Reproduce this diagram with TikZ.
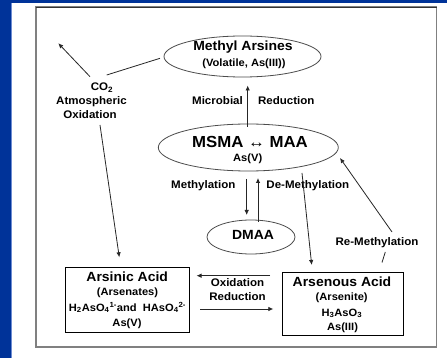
\documentclass[tikz,border=0pt]{standalone}
\usepackage{fontspec}
\setmainfont{Liberation Sans}[FakeStretch=1.05]
\usetikzlibrary{shapes.geometric,arrows.meta}
\definecolor{slideblue}{RGB}{0,51,153}
\definecolor{edgeblue}{RGB}{110,140,210}
\begin{document}
\begin{tikzpicture}[x=1pt,y=-1pt,
  txt/.style={inner sep=0pt, anchor=base, text=black},
  ttl/.style={txt, font=\fontsize{13.3}{15}\selectfont\bfseries},
  subt/.style={txt, font=\fontsize{10.6}{12}\selectfont\bfseries},
  lab/.style={txt, font=\fontsize{11}{13}\selectfont\bfseries},
  msmafont/.style={txt, font=\fontsize{16}{18}\selectfont\bfseries},
  ell/.style={ellipse, draw=black!70, line width=0.8pt, inner sep=0pt},
  boxn/.style={rectangle, draw=black, line width=0.8pt, inner sep=0pt},
  arr/.style={draw=black!85, line width=0.8pt, -{Latex[length=5pt,width=4.5pt]}},
  ln/.style={draw=black!85, line width=0.8pt}]
\useasboundingbox (0,0) rectangle (447,358);
% background
\fill[white] (0,0) rectangle (447,358);
\fill[slideblue] (0,0) rectangle (11,358);
\fill[slideblue] (0,0) rectangle (447,3);
\draw[edgeblue, line width=1pt] (11.5,3) -- (11.5,358);
% frame
\draw[black!50, line width=1.5pt] (36,7) rectangle (436.5,347);
\draw[black!80, line width=0.8pt] (36,7) -- (436.5,7);
% shapes
\node[ell, minimum width=157pt, minimum height=41pt] (methyl) at (242.5,56.5) {};
\node[ell, minimum width=180pt, minimum height=47pt] (msma) at (248.3,147.5) {};
\node[ell, minimum width=88pt, minimum height=34pt] (dmaa) at (251,237) {};
\node[boxn, minimum width=124pt, minimum height=65pt] (arsinic) at (127,299.5) {};
\node[boxn, minimum width=121pt, minimum height=63pt] (arsenous) at (342.5,303.5) {};
% texts
\node[ttl] (tmethyl) at (243,51) {Methyl Arsines};
\node[subt] (tvol) at (244,66.5) {(Volatile, As(III))};
\node[lab] (tmicro) at (217.5,104.3) {Microbial};
\node[lab] (tred1) at (286.3,104.3) {Reduction};
\node[lab] (tco2) at (102,90.5) {CO\textsubscript{2}};
\node[lab] (tatm) at (91.5,104.3) {Atmospheric};
\node[lab] (toxi) at (90,119) {Oxidation};
\node[msmafont] (tmsma) at (250,147.3) {MSMA ↔ MAA};
\node[subt] (tasv) at (247.7,161.5) {As(V)};
\node[lab] (tmeth) at (203.3,188.3) {Methylation};
\node[lab] (tdemeth) at (307.8,188.3) {De-Methylation};
\node[ttl] (tdmaa) at (253,240) {DMAA};
\node[lab] (tremeth) at (377,245) {Re-Methylation};
\node[ttl] (tarsinic) at (127.2,281.7) {Arsinic Acid};
\node[subt] (tarsenates) at (127.5,295.5) {(Arsenates)};
\node[subt] (tformula) at (127.5,311) {H\textsubscript{2}AsO\textsubscript{4}\textsuperscript{1-}and\ \ HAsO\textsubscript{4}\textsuperscript{2-}};
\node[subt] (tasv2) at (127,326.5) {As(V)};
\node[ttl] (tarsenous) at (342,286) {Arsenous Acid};
\node[subt] (tarsenite) at (341.7,300.7) {(Arsenite)};
\node[subt] (th3) at (341.8,316) {H\textsubscript{3}AsO\textsubscript{3}};
\node[subt] (tas3) at (342.5,330.7) {As(III)};
\node[lab] (toxid2) at (237.5,286.7) {Oxidation};
\node[lab] (tred2) at (237.5,300.7) {Reduction};
% connector end points
\coordinate (c1s) at (90,76.7);    \coordinate (c1e) at (58.3,43.3);
\coordinate (c2s) at (106.7,75);   \coordinate (c2e) at (160,58.3);
\coordinate (c3s) at (100,125);    \coordinate (c3e) at (119.3,257.3);
\coordinate (c4s) at (247.7,127);  \coordinate (c4e) at (247.7,85.5);
\coordinate (c5s) at (246.7,179);  \coordinate (c5e) at (246.7,215);
\coordinate (c6s) at (258,222);    \coordinate (c6e) at (258,178);
\coordinate (c7s) at (302,173);    \coordinate (c7e) at (311.7,265);
\coordinate (c8s) at (382,262.5);  \coordinate (c8e) at (385.3,252);
\coordinate (c9s) at (392,232);    \coordinate (c9e) at (340,158);
\coordinate (c10s) at (270,275.7); \coordinate (c10e) at (196.5,275.7);
\coordinate (c11s) at (200,309);   \coordinate (c11e) at (273.3,309);
% connectors
\draw[arr] (c1s) -- (c1e);
\draw[ln] (c2s) -- (c2e);
\draw[arr] (c3s) -- (c3e);
\draw[arr] (c4s) -- (c4e);
\draw[arr] (c5s) -- (c5e);
\draw[arr] (c6s) -- (c6e);
\draw[arr] (c7s) -- (c7e);
\draw[ln] (c8s) -- (c8e);
\draw[arr] (c9s) -- (c9e);
\draw[arr] (c10s) -- (c10e);
\draw[arr] (c11s) -- (c11e);
\end{tikzpicture}
\end{document}
